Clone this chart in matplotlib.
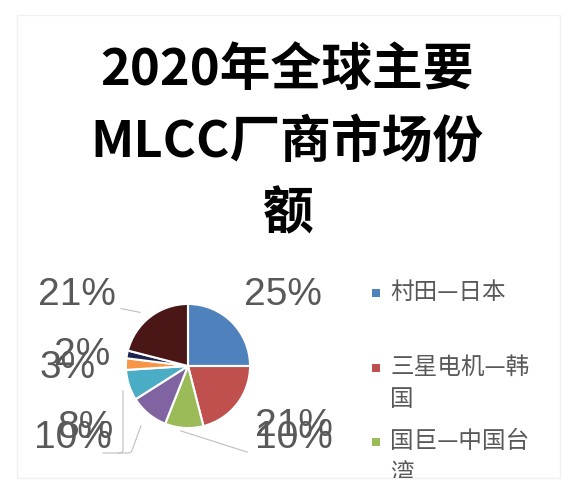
import matplotlib.pyplot as plt
from matplotlib.patches import Rectangle
from matplotlib.transforms import Bbox, TransformedBbox

plt.rcParams['font.family'] = ['Noto Sans CJK SC', 'DejaVu Sans']

# dane z wykresu (udzialy w %)
values = [25, 21, 10, 10, 8, 3, 2, 21]
colors = ['#4f81bd', '#c0504d', '#9bbb59', '#8064a2', '#4bacc6', '#f79646', '#1f2350', '#4a1616']
legend_labels = ['村田—日本', '三星电机—韩\n国', '国巨—中国台\n湾']
title_lines = ['2020年全球主要', 'MLCC厂商市场份', '额']

W, H = 574, 504
fig = plt.figure(figsize=(W / 100, H / 100), dpi=100)
ax = fig.add_axes([0, 0, 1, 1])

# delikatna ramka
ax.add_patch(Rectangle((17, H - 478), 543, 463, fill=False, edgecolor='#f0f0f0', lw=1))

# tytul
for line, y in zip(title_lines, [70, 142, 214]):
    ax.text(287, H - y, line, ha='center', va='center', fontsize=36.5,
            fontweight='bold', color='black')

# kolowy
cx, cy, R = 188, H - 366, 62
wedges, _ = ax.pie(values, colors=colors, startangle=90, counterclock=False,
                   center=(cx, cy), radius=R, explode=[0.05] * len(values),
                   wedgeprops=dict(edgecolor='white', linewidth=1.5))

# etykiety procentowe (pozycje jak w oryginale, nakladaja sie)
label_pos = [(283, 295), (294, 426), (294, 438), (73, 438), (85, 428),
             (68, 368), (82, 355), (77, 295)]
for v, (lx, ly) in zip(values, label_pos):
    ax.text(lx, H - ly, f'{v}%', ha='center', va='center', fontsize=28,
            family='Liberation Sans', color='#595959')

# linie odniesienia
lead = dict(arrowstyle='-', color='#bfbfbf', lw=0.8)
ax.annotate('', xy=(143, H - 313), xytext=(118, H - 308), arrowprops=lead)
ax.annotate('', xy=(178, H - 430), xytext=(250, H - 453),
            arrowprops=dict(lead, connectionstyle='arc3'))
ax.annotate('', xy=(142, H - 423), xytext=(115, H - 453),
            arrowprops=dict(lead, connectionstyle='angle,angleA=0,angleB=70,rad=3'))
ax.annotate('', xy=(123, H - 388), xytext=(100, H - 453),
            arrowprops=dict(lead, connectionstyle='angle,angleA=0,angleB=90,rad=3'))

# legenda (obcieta na dole ramki)
clip = TransformedBbox(Bbox.from_extents(0, H - 478, W, H), ax.transData)
legend_y = [293, 368, 442]
for lab, col, y in zip(legend_labels, colors, legend_y):
    ax.add_patch(Rectangle((372, H - y - 4), 8, 8, color=col, lw=0))
    t = ax.text(390, H - y + 12, lab, ha='left', va='top', fontsize=17,
                color='#595959', linespacing=1.5)
    t.set_clip_on(True)
    t.set_clip_box(clip)

ax.set_xlim(0, W)
ax.set_ylim(0, H)
ax.set_aspect('equal')
ax.axis('off')

plt.savefig('out.png', dpi=100)
